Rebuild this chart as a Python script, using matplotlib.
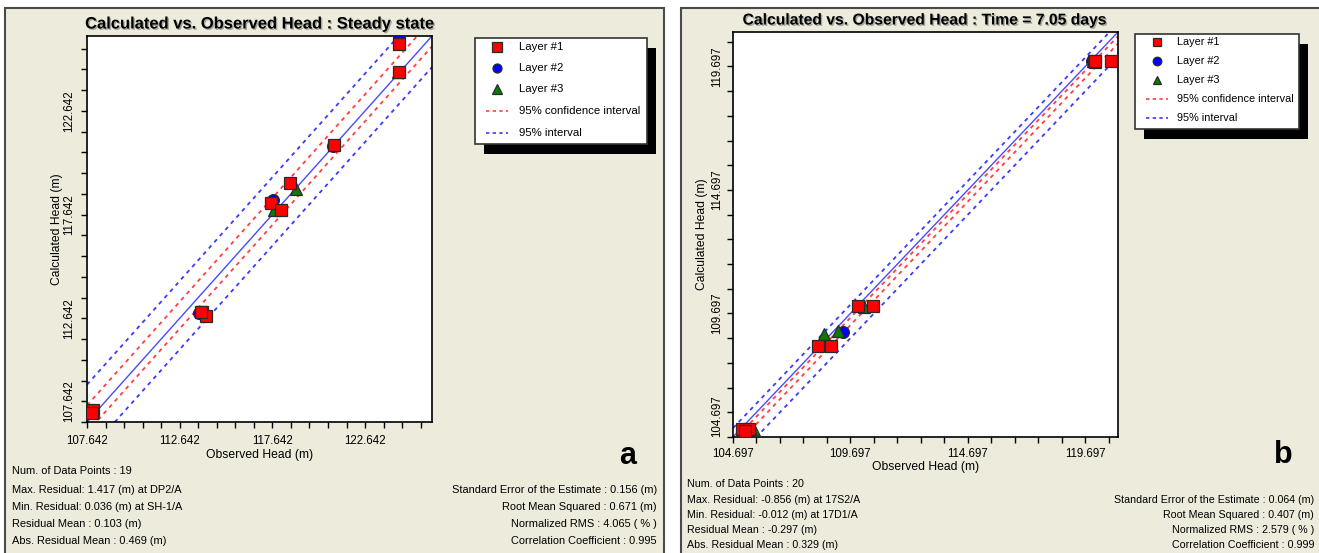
import numpy as np
import matplotlib
matplotlib.use('Agg')
import matplotlib.pyplot as plt
from matplotlib.patches import Rectangle
from matplotlib.lines import Line2D
import matplotlib.patheffects as pe

plt.rcParams['font.family'] = ['Liberation Sans', 'DejaVu Sans']

W, H = 1319, 553

# ---------------- data: panel a (steady state) ----------------
a_title = "Calculated vs. Observed Head : Steady state"
a_ticks = [107.642, 112.642, 117.642, 122.642]
a_lim = (107.642, 126.25)
a_l1_obs = [124.47, 124.47, 120.96, 118.59, 117.57, 118.11, 113.85, 114.06, 107.97, 107.91, 113.80]
a_l1_calc = [125.86, 124.52, 121.01, 119.18, 118.21, 117.88, 112.93, 112.74, 108.22, 108.07, 112.95]
a_l2_obs = [124.47, 117.67, 113.68, 120.90]
a_l2_calc = [126.20, 118.36, 112.88, 120.95]
a_l3_obs = [118.92, 117.73, 124.40, 107.95]
a_l3_calc = [118.89, 117.88, 124.50, 108.10]
a_fit_offset = 0.15
a_ci_half = 0.65
a_pi_half = 1.65
a_stats_left = ["Num. of Data Points : 19",
                "Max. Residual: 1.417 (m) at DP2/A",
                "Min. Residual: 0.036 (m) at SH-1/A",
                "Residual Mean : 0.103 (m)",
                "Abs. Residual Mean : 0.469 (m)"]
a_stats_right = ["Standard Error of the Estimate : 0.156 (m)",
                 "Root Mean Squared : 0.671 (m)",
                 "Normalized RMS : 4.065 ( % )",
                 "Correlation Coefficient : 0.995"]

# ---------------- data: panel b (time = 7.05 days) ----------------
b_title = "Calculated vs. Observed Head : Time = 7.05 days"
b_ticks = [104.697, 109.697, 114.697, 119.697]
b_lim = (104.697, 121.09)
b_l1_obs = [120.06, 120.78, 105.08, 105.38, 108.31, 108.87, 110.02, 110.65, 105.20, 120.10]
b_l1_calc = [119.92, 119.92, 105.02, 105.02, 108.38, 108.38, 109.99, 109.99, 104.95, 119.90]
b_l2_obs = [109.38, 120.00, 108.40]
b_l2_calc = [108.95, 119.92, 108.40]
b_l3_obs = [120.10, 105.59, 108.57, 109.16, 110.27, 120.02, 105.45]
b_l3_calc = [119.88, 104.98, 108.87, 108.99, 109.96, 119.90, 105.00]
b_fit_offset = -0.32
b_ci_half = 0.15
b_pi_half = 0.68
b_stats_left = ["Num. of Data Points : 20",
                "Max. Residual: -0.856 (m) at 17S2/A",
                "Min. Residual: -0.012 (m) at 17D1/A",
                "Residual Mean : -0.297 (m)",
                "Abs. Residual Mean : 0.329 (m)"]
b_stats_right = ["Standard Error of the Estimate : 0.064 (m)",
                 "Root Mean Squared : 0.407 (m)",
                 "Normalized RMS : 2.579 ( % )",
                 "Correlation Coefficient : 0.999"]

legend_labels = ["Layer #1", "Layer #2", "Layer #3", "95% confidence interval", "95% interval"]

RED = '#ff0000'
BLUE = '#0000ff'
GREEN = '#0b7a0b'
EDGE = '#2a2a2a'
CI_COL = '#ff4040'
PI_COL = '#3a3aff'
FIT_COL = '#4a4aff'
PANEL = '#ecebdc'

fig = plt.figure(figsize=(W / 100, H / 100), dpi=100)
fig.patch.set_facecolor('white')


def fx(px):
    return px / W


def fy(py):
    return 1 - py / H


def rect_px(x0, y0, x1, y1, **kw):
    return Rectangle((fx(x0), fy(y1)), fx(x1) - fx(x0), fy(y0) - fy(y1),
                     transform=fig.transFigure, **kw)


# panel backgrounds
fig.add_artist(rect_px(5, 8, 664, 560, facecolor=PANEL, edgecolor='#4a4a4a', lw=1.5, zorder=-2))
fig.add_artist(rect_px(681, 8, 1330, 560, facecolor=PANEL, edgecolor='#4a4a4a', lw=1.5, zorder=-2))


def draw_panel(box, title, ticks, lim, l1, l2, l3, fit_off, ci, pi,
               xpad, ypad, xlab_top, ylab_right, title_y, title_fs):
    x0, y0, x1, y1 = box
    ax = fig.add_axes([fx(x0), fy(y1), fx(x1) - fx(x0), fy(y0) - fy(y1)])
    ax.set_facecolor('white')
    ax.set_xlim(*lim)
    ax.set_ylim(*lim)
    xs = np.array(lim)
    ax.plot(xs, xs, color=FIT_COL, lw=1.0, zorder=2)
    for off, col in [(fit_off + ci, CI_COL), (fit_off - ci, CI_COL),
                     (fit_off + pi, PI_COL), (fit_off - pi, PI_COL)]:
        ax.plot(xs, xs + off, color=col, lw=1.3, dashes=(2.2, 2.4), zorder=2)
    ax.plot(l2[0], l2[1], ls='none', marker='o', ms=8.5, mfc=BLUE, mec=EDGE, mew=0.9, zorder=3)
    ax.plot(l3[0], l3[1], ls='none', marker='^', ms=9, mfc=GREEN, mec=EDGE, mew=0.9, zorder=4)
    ax.plot(l1[0], l1[1], ls='none', marker='s', ms=8.5, mfc=RED, mec=EDGE, mew=0.9, zorder=5)

    major = np.array(ticks)
    minor = np.arange(lim[0], lim[1] + 1e-6, 1.0)
    ax.set_xticks(major)
    ax.set_yticks(major)
    ax.set_xticks(minor, minor=True)
    ax.set_yticks(minor, minor=True)
    lbls = [f"{t:.3f}" for t in ticks]
    ax.set_xticklabels(lbls, fontsize=8.3)
    ax.set_yticklabels(lbls, fontsize=8.3, rotation=90, va='center')
    ax.get_yticklabels()[0].set_va('bottom')
    ax.tick_params(which='both', direction='out', length=4, width=1, color='black')
    ax.tick_params(axis='x', which='major', pad=xpad)
    ax.tick_params(axis='y', which='major', pad=ypad)
    for s in ax.spines.values():
        s.set_color('black')
        s.set_linewidth(1.2)
    ax.set_xlabel("Observed Head (m)", fontsize=8.7)
    ax.set_ylabel("Calculated Head (m)", fontsize=8.7)
    ax.xaxis.set_label_coords(0.5, (y1 - xlab_top) / (y1 - y0))
    ax.yaxis.set_label_coords((ylab_right - x0) / (x1 - x0), 0.5)
    t = fig.text(fx((x0 + x1) / 2), fy(title_y), title, fontsize=title_fs, fontweight='bold',
                 ha='center', va='center')
    t.set_path_effects([pe.withSimplePatchShadow(offset=(1, -1), shadow_rgbFace='#888888', alpha=0.7)])
    return ax


draw_panel((87, 36, 432, 422), a_title, a_ticks, a_lim,
           (a_l1_obs, a_l1_calc), (a_l2_obs, a_l2_calc), (a_l3_obs, a_l3_calc),
           a_fit_offset, a_ci_half, a_pi_half,
           xpad=5.0, ypad=4.5, xlab_top=449, ylab_right=63, title_y=24, title_fs=11.9)
draw_panel((733, 32, 1118, 437), b_title, b_ticks, b_lim,
           (b_l1_obs, b_l1_calc), (b_l2_obs, b_l2_calc), (b_l3_obs, b_l3_calc),
           b_fit_offset, b_ci_half, b_pi_half,
           xpad=4.0, ypad=3.3, xlab_top=461, ylab_right=708, title_y=20, title_fs=11.3)


def draw_legend(box, rows, mx, tx, fs, ms):
    x0, y0, x1, y1 = box
    fig.add_artist(rect_px(x0 + 9, y0 + 10, x1 + 9, y1 + 10, facecolor='black', edgecolor='black', lw=0, zorder=10))
    fig.add_artist(rect_px(x0, y0, x1, y1, facecolor='white', edgecolor='#333333', lw=1.2, zorder=11))
    specs = [dict(marker='s', mfc=RED), dict(marker='o', mfc=BLUE), dict(marker='^', mfc=GREEN)]
    for i, sp in enumerate(specs):
        fig.add_artist(Line2D([fx(mx)], [fy(rows[i])], ls='none', marker=sp['marker'], ms=ms,
                              mfc=sp['mfc'], mec=EDGE, mew=0.9, transform=fig.transFigure, zorder=12))
    for i, col in [(3, CI_COL), (4, PI_COL)]:
        fig.add_artist(Line2D([fx(mx - 11), fx(mx + 11)], [fy(rows[i])] * 2, color=col, lw=1.2,
                              dashes=(2.0, 2.0), transform=fig.transFigure, zorder=12))
    for i, lab in enumerate(legend_labels):
        fig.text(fx(tx), fy(rows[i]), lab, fontsize=fs, ha='left', va='center', zorder=12)


draw_legend((475, 38, 647, 144), [47, 68, 89, 111, 133], 497, 519, 8.2, 6.5)
draw_legend((1135, 34, 1299, 129), [42, 61, 80, 99, 118], 1157, 1177, 7.8, 6.2)

# statistics text
for i, s in enumerate(a_stats_left):
    fig.text(fx(12), fy([471, 490, 507, 524, 541][i]), s, fontsize=7.9, ha='left', va='center')
for i, s in enumerate(a_stats_right):
    fig.text(fx(657), fy([490, 507, 524, 541][i]), s, fontsize=7.9, ha='right', va='center')
for i, s in enumerate(b_stats_left):
    fig.text(fx(687), fy([484, 500, 515, 530, 545][i]), s, fontsize=7.7, ha='left', va='center')
for i, s in enumerate(b_stats_right):
    fig.text(fx(1314), fy([500, 515, 530, 545][i]), s, fontsize=7.7, ha='right', va='center')

fig.text(fx(628), fy(456), "a", fontsize=22, fontweight='bold', ha='center', va='center')
fig.text(fx(1283), fy(455), "b", fontsize=22, fontweight='bold', ha='center', va='center')

fig.savefig('out.png', dpi=100, facecolor=fig.get_facecolor())
